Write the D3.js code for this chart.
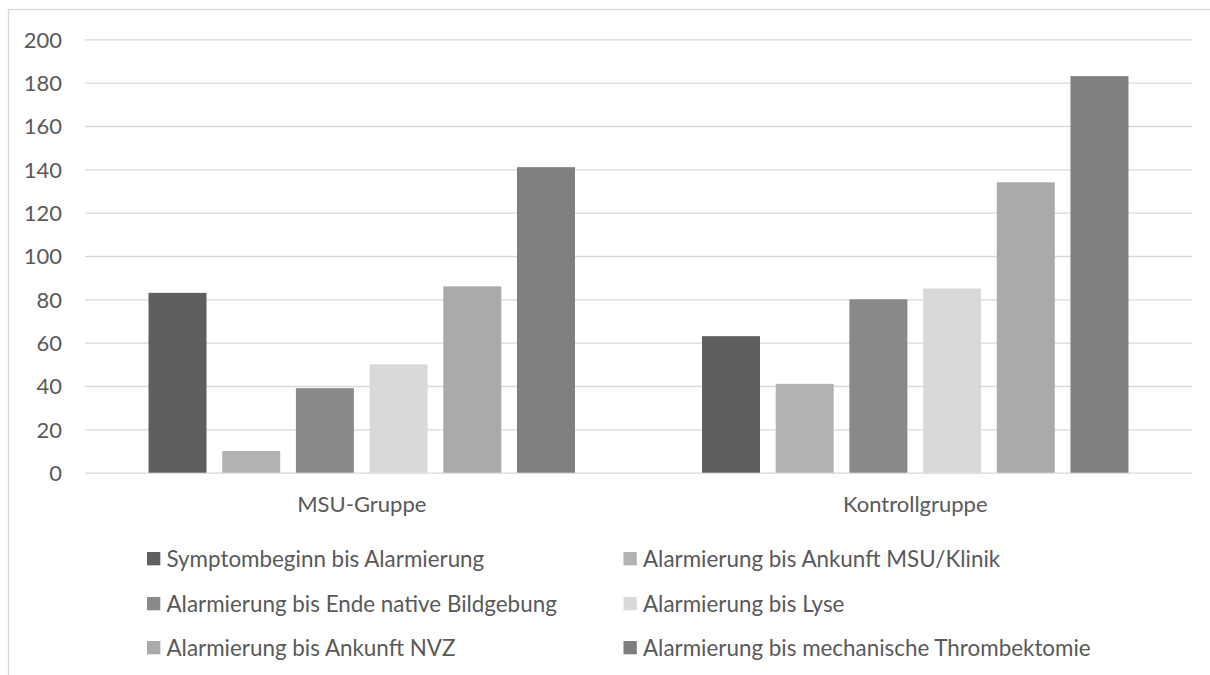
<!DOCTYPE html>
<html>
<head>
<meta charset="utf-8">
<script src="https://cdn.jsdelivr.net/npm/d3@7"></script>
<style>
  html, body { margin: 0; padding: 0; background: #fff; }
  svg { display: block; }
  text { font-family: Lato, "Open Sans", sans-serif; fill: #595959; }
</style>
</head>
<body>
<svg id="chart" width="1210" height="675"></svg>
<script>
// Zeitintervalle in Minuten, je Gruppe
const groups = ["MSU-Gruppe", "Kontrollgruppe"];
const seriesNames = [
  "Symptombeginn bis Alarmierung",
  "Alarmierung bis Ankunft MSU/Klinik",
  "Alarmierung bis Ende native Bildgebung",
  "Alarmierung bis Lyse",
  "Alarmierung bis Ankunft NVZ",
  "Alarmierung bis mechanische Thrombektomie"
];
const msuValues = [83, 10, 39, 50, 86, 141];
const kontrollValues = [63, 41, 80, 85, 134, 183];
const yTicks = [0, 20, 40, 60, 80, 100, 120, 140, 160, 180, 200];
const seriesColors = ["#5f5f5f", "#b2b2b2", "#898989", "#d9d9d9", "#aaaaaa", "#7f7f7f"];

const valuesByGroup = { "MSU-Gruppe": msuValues, "Kontrollgruppe": kontrollValues };

const svg = d3.select("#chart");

// Rahmen des Diagrammbereichs
svg.append("rect")
  .attr("x", 8.5).attr("y", 9.5)
  .attr("width", 1400).attr("height", 900)
  .attr("fill", "none")
  .attr("stroke", "#d9d9d9")
  .attr("stroke-width", 1.3);

const plot = { left: 85, right: 1192, top: 39.3, bottom: 472.7 };

const y = d3.scaleLinear().domain([0, 200]).range([plot.bottom, plot.top]);
const x0 = d3.scaleBand().domain(groups).range([plot.left, plot.right]).padding(0);
const x1 = d3.scaleBand().domain(d3.range(seriesNames.length))
  .range([0, x0.bandwidth()])
  .paddingInner(0.213)
  .paddingOuter(0.862);
const color = d3.scaleOrdinal().domain(d3.range(seriesNames.length)).range(seriesColors);

// Gitternetzlinien
const yAxisGrid = d3.axisLeft(y)
  .tickValues(yTicks)
  .tickSize(-(plot.right - plot.left))
  .tickFormat("");
svg.append("g")
  .attr("transform", `translate(${plot.left},0)`)
  .call(yAxisGrid)
  .call(g => g.select(".domain").remove())
  .call(g => g.selectAll(".tick line").attr("stroke", "#d9d9d9").attr("stroke-width", 1.3));

// Y-Achsenbeschriftung
const yAxisLabels = d3.axisLeft(y).tickValues(yTicks).tickSize(0).tickPadding(0);
svg.append("g")
  .attr("transform", "translate(62,0)")
  .call(yAxisLabels)
  .call(g => g.select(".domain").remove())
  .call(g => g.selectAll(".tick text")
    .attr("font-size", 22)
    .attr("font-family", "Lato, sans-serif")
    .attr("fill", "#595959")
    .attr("dy", "0.36em"));

// Balken
const groupG = svg.append("g").selectAll("g")
  .data(groups)
  .join("g")
  .attr("transform", d => `translate(${x0(d)},0)`);

groupG.selectAll("rect")
  .data(g => valuesByGroup[g].map((v, i) => ({ i, v })))
  .join("rect")
  .attr("x", d => x1(d.i))
  .attr("width", x1.bandwidth())
  .attr("y", d => y(d.v))
  .attr("height", d => y(0) - y(d.v))
  .attr("fill", d => color(d.i));

// Kategorienbeschriftung
const xAxis = d3.axisBottom(x0).tickSize(0).tickPadding(0);
svg.append("g")
  .attr("transform", `translate(0,${plot.bottom})`)
  .call(xAxis)
  .call(g => g.select(".domain").remove())
  .call(g => g.selectAll(".tick text")
    .attr("font-size", 22)
    .attr("font-family", "Lato, sans-serif")
    .attr("fill", "#595959")
    .attr("dy", 0)
    .attr("y", 39));

// Legende (zweispaltig, zeilenweise)
const legendCols = [147, 623.5];
const legendRows = [558.5, 603.5, 647.5];
const legend = svg.append("g").selectAll("g")
  .data(seriesNames)
  .join("g")
  .attr("transform", (d, i) => `translate(${legendCols[i % 2]},${legendRows[Math.floor(i / 2)]})`);

legend.append("rect")
  .attr("x", 0).attr("y", -6.5)
  .attr("width", 13.3).attr("height", 13.3)
  .attr("fill", (d, i) => color(i));

legend.append("text")
  .attr("x", 19.5)
  .attr("y", 0)
  .attr("dy", "0.36em")
  .attr("font-size", 22.4)
  .text(d => d);
</script>
</body>
</html>
